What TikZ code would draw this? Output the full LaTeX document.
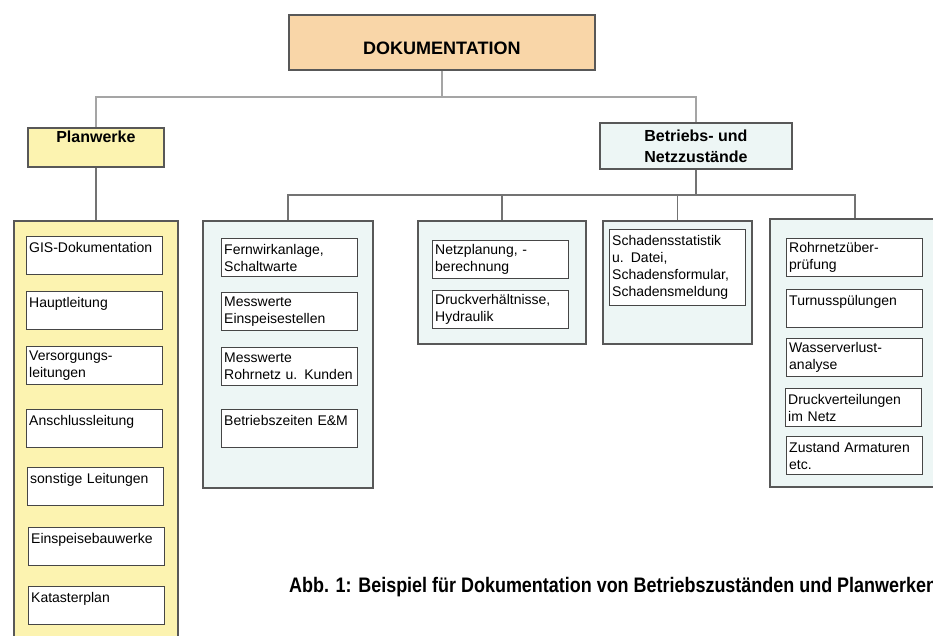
\documentclass[tikz,border=0pt]{standalone}
\usepackage{fontspec}
\setmainfont{Liberation Sans}
\newfontfamily\capfont{Liberation Sans}[FakeStretch=0.855]
\definecolor{dokufill}{RGB}{249,214,168}
\definecolor{planfill}{RGB}{252,243,176}
\definecolor{betrfill}{RGB}{237,246,245}
\definecolor{boxline}{RGB}{88,88,88}
\definecolor{itemline}{RGB}{70,70,70}
\definecolor{toplink}{RGB}{165,165,165}
\definecolor{link}{RGB}{115,115,115}
\begin{document}
\begin{tikzpicture}[x=1pt,y=-1pt,
    box/.style={draw=boxline,line width=1.8pt,anchor=north west,inner sep=0pt},
    head/.style={box,align=center,font=\bfseries\fontsize{16}{21}\selectfont},
    item/.style={draw=itemline,fill=white,line width=1.4pt,anchor=north west,
      align=left,inner xsep=2.5pt,inner ysep=0pt,text width=131pt,
      minimum height=38pt,font=\fontsize{14}{17}\selectfont}]
  \useasboundingbox (0,0) rectangle (933,635);
  \node[box,fill=dokufill,minimum width=306pt,minimum height=55pt,
    font=\bfseries\fontsize{18}{22}\selectfont,text height=25pt,text depth=0pt]
    (doku) at (288,14) {DOKUMENTATION};
  \node[head,fill=planfill,minimum width=136pt,minimum height=39pt]
    (plan) at (27,127) {Planwerke\\\mbox{}};
  \node[head,fill=betrfill,minimum width=192pt,minimum height=46pt]
    (betr) at (599,122) {Betriebs- und\\Netzzustände};
  \draw
    (13,220) node[box,fill=planfill,minimum width=164pt,minimum height=425pt] (plancol){}
    (202,220) node[box,fill=betrfill,minimum width=170pt,minimum height=267pt] (fwcol){}
    (417,220) node[box,fill=betrfill,minimum width=168pt,minimum height=123pt] (npcol){}
    (602,220) node[box,fill=betrfill,minimum width=149pt,minimum height=123pt] (sdcol){}
    (769,218) node[box,fill=betrfill,minimum width=170pt,minimum height=268pt] (rncol){};
  \draw
    (26,236) node[item] (gis){GIS-Dokumentation\\\mbox{}}
    (26,291) node[item] (haupt){Hauptleitung\\\mbox{}}
    (26,346) node[item] (vers){Versorgungs-\\leitungen}
    (26,409) node[item] (ansch){Anschlussleitung\\\mbox{}}
    (27,467) node[item] (sonst){sonstige Leitungen\\\mbox{}}
    (28,527) node[item] (einbau){Einspeisebauwerke\\\mbox{}}
    (28,586) node[item] (kat){Katasterplan\\\mbox{}};
  \draw
    (221,238) node[item] (fern){Fernwirkanlage,\\Schaltwarte}
    (221,292) node[item] (mwein){Messwerte\\Einspeisestellen}
    (221,347) node[item] (mwrohr){Messwerte\\Rohrnetz u. Kunden}
    (221,409) node[item] (bzeit){Betriebszeiten E\&M\\\mbox{}};
  \draw
    (432,240) node[item] (netzpl){Netzplanung, -\\berechnung}
    (432,290) node[item] (druck){Druckverhältnisse,\\Hydraulik};
  \draw
    (609,229) node[item,minimum height=76pt] (schaden){Schadensstatistik\\u. Datei,\\Schadensformular,\\Schadensmeldung};
  \draw
    (786,238) node[item] (rohr){Rohrnetzüber-\\prüfung}
    (786,289) node[item] (turnus){Turnusspülungen\\\mbox{}}
    (786,338) node[item] (wasser){Wasserverlust-\\analyse}
    (785,388) node[item] (dvert){Druckverteilungen\\im Netz}
    (786,436) node[item] (zust){Zustand Armaturen\\etc.};
  \begin{scope}[line width=1.8pt]
    \draw[toplink] (doku.south) -- ++(0,26) coordinate (split) -| (plan.north);
    \draw[toplink] (split) -| (betr.north);
    \draw[link] (plan.south) to (plancol.north);
    \draw[link] (betr.south) -- ++(0,25) coordinate (fork);
    \foreach \col in {fwcol,npcol,sdcol,rncol}
      \draw[link] (fork) -| (\col.north);
  \end{scope}
  \node[anchor=base west,inner sep=0pt,font=\capfont\bfseries\fontsize{21}{25}\selectfont]
    (caption) at (289,592) {Abb. 1: Beispiel für Dokumentation von Betriebszuständen und Planwerken};
\end{tikzpicture}
\end{document}
